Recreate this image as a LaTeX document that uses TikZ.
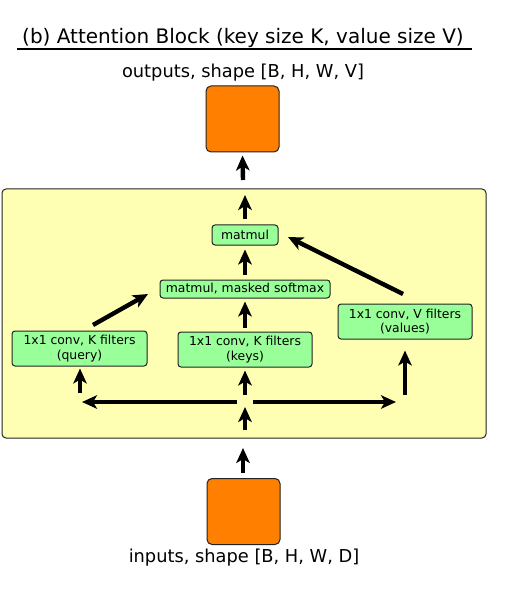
\documentclass[tikz,border=0pt]{standalone}
\usepackage{fontspec}
\setmainfont{DejaVu Sans}
\usetikzlibrary{arrows.meta}
\definecolor{boxorange}{HTML}{FF8000}
\definecolor{panelyellow}{HTML}{FFFFB3}
\definecolor{opgreen}{HTML}{99FF99}
\definecolor{edgegray}{HTML}{222222}
\begin{document}
\begin{tikzpicture}[x=1pt,y=-1pt,
  tensor/.style={draw=edgegray, line width=1pt, fill=boxorange, rounded corners=5pt,
    minimum width=73pt, minimum height=66pt, inner sep=0pt},
  panel/.style={draw=edgegray, line width=1pt, fill=panelyellow, rounded corners=4pt},
  op/.style={draw=edgegray, line width=1pt, fill=opgreen, rounded corners=3pt,
    inner sep=0pt, align=center, font=\fontsize{12.4}{14.5}\selectfont},
  flow/.style={line width=4.4pt, -{Stealth[length=15pt,width=13.5pt,inset=4pt]}},
  caption/.style={font=\fontsize{17.8}{20}\selectfont}
]
\useasboundingbox (0,0) rectangle (526,609);

% title and underline
\node[font=\fontsize{20}{23}\selectfont] (title) at (243,38) {(b) Attention Block (key size K, value size V)};
\draw[line width=1.6pt] (17,49) -- (472,49);

% output tensor
\node[caption] (outlbl) at (243,73) {outputs, shape [B, H, W, V]};
\node[tensor] (out) at (242.5,119) {};

% attention panel
\node[panel, minimum width=484pt, minimum height=249pt, inner sep=0pt] (panel) at (244,313.5) {};

% operations
\node[op, minimum width=66pt, minimum height=20pt] (mm) at (245,235) {matmul};
\node[op, minimum width=170pt, minimum height=18pt] (sm) at (245,289) {matmul, masked softmax};
\node[op, minimum width=135pt, minimum height=35pt] (q) at (79.5,348.5) {1x1 conv, K filters\\(query)};
\node[op, minimum width=134pt, minimum height=35pt] (k) at (245,349.5) {1x1 conv, K filters\\(keys)};
\node[op, minimum width=134pt, minimum height=35pt] (v) at (405,321.5) {1x1 conv, V filters\\(values)};

% input tensor
\node[tensor] (in) at (243.5,511.5) {};
\node[caption] (inlbl) at (244,558) {inputs, shape [B, H, W, D]};

% arrow anchor points
\coordinate (panelOutTail) at (245,219);
\coordinate (panelOutTip) at (245,195);
\coordinate (outTail) at (243,180);
\coordinate (split) at (245,402);
\coordinate (splitL) at (237,402);
\coordinate (splitR) at (253,402);
\coordinate (leftEnd) at (82,402);
\coordinate (rightEnd) at (396,402);
\coordinate (qTail) at (80,393);
\coordinate (kTail) at (245,395);
\coordinate (vTail) at (405,395);
\coordinate (panelInTail) at (245,430);
\coordinate (panelInTip) at (245,407);
\coordinate (inTip) at (243,448);
\coordinate (qOut) at (93,325);
\coordinate (smIn) at (148,294);
\coordinate (vOut) at (403,294);
\coordinate (mmIn) at (288,237);

% data flow
\draw[flow] (inTip |- in.north) ++(0,-5) -- (inTip);
\draw[flow] (panelInTail) -- (panelInTip);
\draw[flow] (splitL) -- (leftEnd);
\draw[flow] (splitR) -- (rightEnd);
\draw[flow] (qTail) -- ([yshift=-2pt]q.south -| qTail);
\draw[flow] (kTail) -- ([yshift=-3pt]k.south);
\draw[flow] (vTail) -- ([yshift=-11pt]v.south);
\draw[flow] (k.north) ++(0,-4) -- ([yshift=-3pt]sm.south);
\draw[flow] (qOut) -- (smIn);
\draw[flow] (sm.north) ++(0,-5) -- ([yshift=-4pt]mm.south);
\draw[flow] (vOut) -- (mmIn);
\draw[flow] (panelOutTail) -- (panelOutTip);
\draw[flow] (outTail) -- ([yshift=-3pt]out.south);
\end{tikzpicture}
\end{document}
